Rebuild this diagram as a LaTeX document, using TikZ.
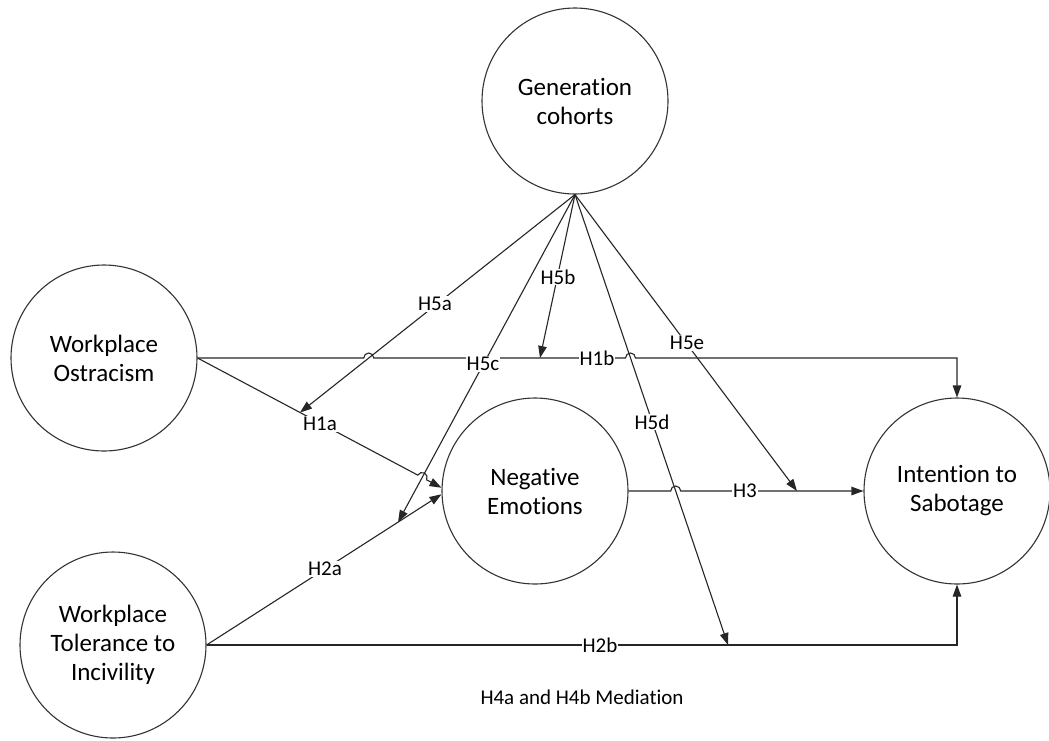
\documentclass[tikz,border=0pt]{standalone}
\usepackage{fontspec}
\setmainfont{Carlito}[Ligatures={NoCommon,NoContextual},Contextuals=NoAlternate]
\usetikzlibrary{arrows.meta,calc,intersections}
\begin{document}
\begin{tikzpicture}[x=1pt,y=-1pt,
  cnode/.style={circle,draw=black!80,line width=1.1pt,minimum size=186pt,inner sep=0pt,align=center,font=\fontsize{25}{29}\selectfont},
  conn/.style={draw=black!85,line width=1.1pt},
  arr/.style={conn,-{Triangle[length=12pt,width=8.5pt]}},
  lbl/.style={fill=white,inner sep=1pt,font=\fontsize{21}{24}\selectfont},
  note/.style={inner sep=1pt,font=\fontsize{21}{24}\selectfont}]
\useasboundingbox[fill=white] (0,0) rectangle (1049,740);
\node[cnode] (gen) at (575,101) {Generation\\cohorts};
\node[cnode] (wo) at (104,358) {Workplace\\Ostracism};
\node[cnode] (wt) at (113,645) {Workplace\\Tolerance to\\Incivility};
\node[cnode] (ne) at (535,491) {Negative\\Emotions};
\node[cnode] (is) at (957,491) {Intention to\\Sabotage};
% end points on other connectors
\coordinate (m5a) at ($(wo.east)!0.42!(ne.178)$);
\coordinate (m5c) at ($(wt.east)!0.815!(ne.182)$);
\coordinate (m5b) at (540,358);
\coordinate (m5d) at (728,645);
\coordinate (m5e) at (797,491);
\coordinate (c1b) at (is.north |- wo.east);
\coordinate (c2b) at (is.south |- wt.east);
% crossings
\path[name path=p1a] (wo.east) -- (ne.178);
\path[name path=p1b] (wo.east) -- (c1b);
\path[name path=p3] (ne.east) -- (is.west);
\path[name path=p5a] (gen.south) -- (m5a);
\path[name path=p5c] (gen.south) -- (m5c);
\path[name path=p5d] (gen.south) -- (m5d);
\path[name intersections={of=p1a and p5c,by=xa}];
\path[name intersections={of=p1b and p5a,by=xb}];
\path[name intersections={of=p1b and p5d,by=xc}];
\path[name intersections={of=p3 and p5d,by=xd}];
% connectors
\draw[arr] (wo.east) -- ($(xb)-(5pt,0pt)$) arc[start angle=180,end angle=0,radius=5pt]
  -- ($(xc)-(5pt,0pt)$) arc[start angle=180,end angle=0,radius=5pt] -- (c1b) -- (is.north);
\draw[arr] (wo.east) -- ($(xa)!5pt!(wo.east)$) arc[start angle=152,end angle=-28,radius=5pt] -- (ne.178);
\draw[arr] (wt.east) -- (ne.182);
\draw[arr] (wt.east) -- (c2b) -- (is.south);
\draw[arr] (ne.east) -- ($(xd)-(5pt,0pt)$) arc[start angle=180,end angle=0,radius=5pt] -- (is.west);
\draw[arr] (gen.south) -- (m5a);
\draw[arr] (gen.south) -- (m5b);
\draw[arr] (gen.south) -- (m5c);
\draw[arr] (gen.south) -- (m5d);
\draw[arr] (gen.south) -- (m5e);
% labels
\node[lbl] (l1a) at (320,424) {H1a};
\node[lbl] (l1b) at (597,358) {H1b};
\node[lbl] (l2a) at (325,569) {H2a};
\node[lbl] (l2b) at (600,645) {H2b};
\node[lbl] (l3) at (745,491) {H3};
\node[lbl] (l5a) at (435,304) {H5a};
\node[lbl] (l5b) at (558,277) {H5b};
\node[lbl] (l5c) at (483,364) {H5c};
\node[lbl] (l5d) at (652,422) {H5d};
\node[lbl] (l5e) at (687,343) {H5e};
\node[note] (med) at (582,697) {H4a and H4b Mediation};
\end{tikzpicture}
\end{document}
